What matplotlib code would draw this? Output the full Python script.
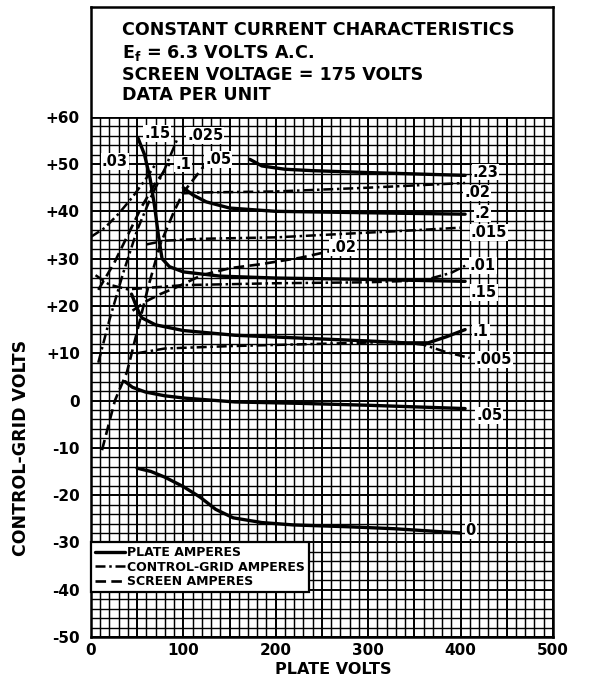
import matplotlib
matplotlib.use("Agg")
import matplotlib.pyplot as plt
import numpy as np
from matplotlib.patches import Rectangle

plt.rcParams['font.family'] = ['DejaVu Sans']
plt.rcParams['font.weight'] = 'bold'

# ---------------- data (plate volts, control-grid volts) ----------------
# Plate amperes
plate_0_x = [50, 65, 80, 100, 118, 135, 154, 185, 219, 280, 328, 400]
plate_0_y = [-14.3, -15, -16.2, -18.2, -20.4, -23, -24.8, -25.8, -26.3, -26.7, -27.1, -28]
plate_05_x = [37, 45, 59, 80, 102, 156, 227, 300, 405]
plate_05_y = [4, 2.8, 1.8, 1, 0.5, -0.3, -0.6, -1, -1.7]
plate_1_x = [44, 50, 55, 70, 100, 156, 227, 300, 340, 365, 385, 405]
plate_1_y = [22.5, 19.5, 17.5, 16, 14.8, 13.8, 13.2, 12.6, 12.2, 12.2, 13.5, 15]
plate_15_x = [51, 58, 64, 69, 73, 77, 85, 100, 140, 200, 300, 405]
plate_15_y = [55.5, 52, 47, 41, 35, 30, 28.3, 27.2, 26.3, 25.9, 25.6, 25.2]
plate_2_x = [100, 110, 125, 150, 200, 300, 405]
plate_2_y = [45, 43.5, 42, 40.7, 40, 39.7, 39.4]
plate_23_x = [172, 185, 210, 240, 300, 405]
plate_23_y = [51, 49.6, 48.9, 48.6, 48.2, 47.6]

# Control-grid amperes
grid_005_x = [50, 80, 150, 250, 330, 360, 385, 410]
grid_005_y = [10, 11, 11.5, 12, 12.4, 11.8, 10.2, 9]
grid_01_x = [5, 20, 40, 60, 100, 200, 300, 360, 390, 405]
grid_01_y = [26.5, 24.5, 23.5, 23.8, 24.4, 24.8, 25, 25.4, 27, 28.5]
grid_015_x = [60, 80, 120, 200, 280, 350, 405]
grid_015_y = [33, 33.8, 34.2, 34.5, 35.3, 36, 36.6]
grid_02_x = [100, 120, 200, 300, 405]
grid_02_y = [43.8, 44, 44.2, 45, 46]
grid_025_x = [8, 20, 35, 50, 65, 80, 94]
grid_025_y = [8, 17, 27, 36, 43, 49, 55.5]
grid_03_x = [0, 15, 30, 45, 60, 70]
grid_03_y = [34.6, 36.5, 39.5, 43, 47, 50]

# Screen amperes
screen_02_x = [45, 60, 75, 91, 120, 151, 183, 227, 259]
screen_02_y = [19, 21, 22.5, 23.8, 26.5, 28, 28.8, 30.2, 31.6]
screen_05_x = [12, 26, 39, 48, 62, 75, 90, 100, 120, 130]
screen_05_y = [-10.5, 0, 6, 13, 24, 33, 40, 44, 49, 51]
screen_1_x = [8, 25, 40, 55, 70, 85]
screen_1_y = [23.4, 29, 35, 41, 46, 50]

curve_labels = ['.23', '.02', '.2', '.015', '.01', '.15', '.1', '.005', '.05', '0',
                '.03', '.15', '.025', '.1', '.05', '.02']

x_ticks = [0, 100, 200, 300, 400, 500]
y_ticks = [60, 50, 40, 30, 20, 10, 0, -10, -20, -30, -40, -50]
y_tick_labels = ['+60', '+50', '+40', '+30', '+20', '+10', '0', '-10', '-20', '-30', '-40', '-50']

title_lines = ["CONSTANT CURRENT CHARACTERISTICS",
               r"E$_\mathbf{f}$ = 6.3 VOLTS A.C.",
               "SCREEN VOLTAGE = 175 VOLTS",
               "DATA PER UNIT"]

# ---------------- figure ----------------
fig = plt.figure(figsize=(5.98, 6.88), dpi=100)
ax = fig.add_axes([0.152, 0.0741, 0.7726, 0.9157])
YTOP = 83.2
ax.set_xlim(0, 500)
ax.set_ylim(-50, YTOP)

# graph-paper grid (only in chart area)
for gx in np.arange(0, 501, 10):
    ax.plot([gx, gx], [-50, 60], color='black', lw=1.4 if gx % 50 == 0 else 1.05, zorder=1)
for gy in np.arange(-50, 61, 2):
    ax.plot([0, 500], [gy, gy], color='black', lw=1.4 if gy % 10 == 0 else 1.0, zorder=1)
ax.plot([0, 500], [60, 60], color='black', lw=2.0, zorder=1)

solid = dict(color='black', lw=2.4, solid_capstyle='round', zorder=4)
gridls = dict(color='black', lw=1.8, linestyle=(0, (4, 1.5, 1, 1.5)), zorder=4)
scrls = dict(color='black', lw=1.9, linestyle=(0, (4, 2)), zorder=4)

ax.plot(plate_0_x, plate_0_y, label='PLATE AMPERES', **solid)
ax.plot(plate_05_x, plate_05_y, **solid)
ax.plot(plate_1_x, plate_1_y, **solid)
ax.plot(plate_15_x, plate_15_y, **solid)
ax.plot(plate_2_x, plate_2_y, **solid)
ax.plot(plate_23_x, plate_23_y, **solid)

ax.plot(grid_005_x, grid_005_y, label='CONTROL-GRID AMPERES', **gridls)
ax.plot(grid_01_x, grid_01_y, **gridls)
ax.plot(grid_015_x, grid_015_y, **gridls)
ax.plot(grid_02_x, grid_02_y, **gridls)
ax.plot(grid_025_x, grid_025_y, **gridls)
ax.plot(grid_03_x, grid_03_y, **gridls)

ax.plot(screen_02_x, screen_02_y, label='SCREEN AMPERES', **scrls)
ax.plot(screen_05_x, screen_05_y, **scrls)
ax.plot(screen_1_x, screen_1_y, **scrls)

# curve labels
label_pos = [(427, 48.3), (418, 43.9), (424, 39.6), (431, 35.6), (424, 28.6), (425, 22.9),
             (422, 14.5), (436, 8.6), (431, -3.1), (411, -27.4),
             (26, 50.5), (72, 56.5), (124, 56), (100, 50), (138, 51), (273, 32.3)]
for txt, (lx, ly) in zip(curve_labels, label_pos):
    ax.text(lx, ly, txt, fontsize=10.5, fontweight='bold', ha='center', va='center',
            zorder=6, bbox=dict(facecolor='white', edgecolor='none', pad=0.6))

# title box
ax.add_patch(Rectangle((0, 60), 500, YTOP - 60, facecolor='white', edgecolor='none', zorder=2))
for t, ty in zip(title_lines, [78.3, 73.5, 68.8, 64.6]):
    ax.text(33.6, ty, t, fontsize=12.6, fontweight='bold', ha='left', va='center', zorder=7)

# axes styling
ax.set_xticks(x_ticks)
ax.set_xticklabels([str(v) for v in x_ticks], fontsize=11, fontweight='bold')
ax.set_yticks(y_ticks)
ax.set_yticklabels(y_tick_labels, fontsize=11, fontweight='bold')
ax.tick_params(axis='y', length=0, pad=8)
ax.tick_params(axis='x', length=0, pad=4)
for s in ax.spines.values():
    s.set_linewidth(1.8)
ax.set_xlabel('PLATE VOLTS', fontsize=11.5, fontweight='bold')
ax.xaxis.set_label_coords(0.524, -0.040)
ax.set_ylabel('CONTROL-GRID VOLTS', fontsize=12.5, fontweight='bold')
ax.yaxis.set_label_coords(-0.132, 0.30)

leg = ax.legend(loc='upper left', bbox_to_anchor=(0.0, 20 / (YTOP + 50)),
                handlelength=2.4, handletextpad=0.2, labelspacing=0.12, borderpad=0.3,
                borderaxespad=0, fancybox=False, framealpha=1, edgecolor='black',
                prop={'weight': 'bold', 'size': 9})
leg.get_frame().set_linewidth(1.6)
leg.set_zorder(8)

fig.savefig('out.png', dpi=100, facecolor='white')
